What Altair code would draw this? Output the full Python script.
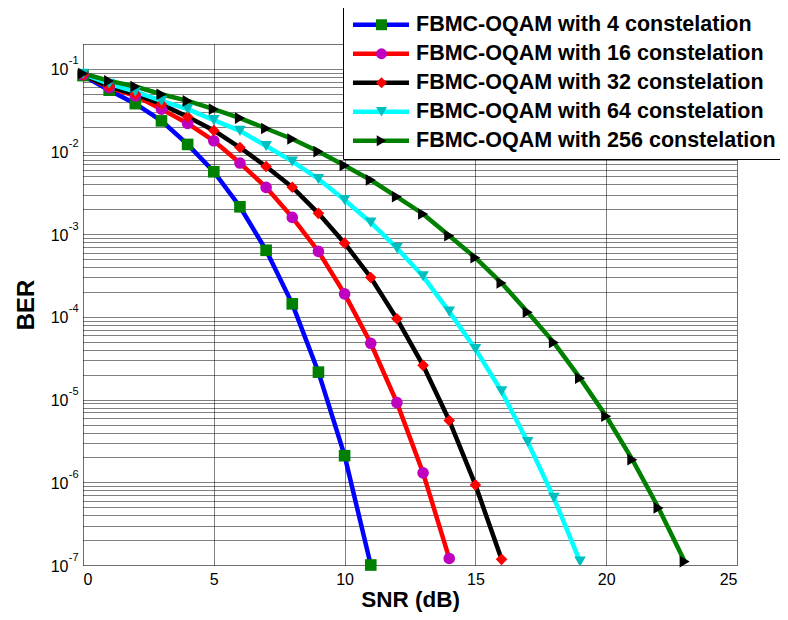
import altair as alt
import pandas as pd

labels = [
    "FBMC-OQAM with 4 constelation",
    "FBMC-OQAM with 16 constelation",
    "FBMC-OQAM with 32 constelation",
    "FBMC-OQAM with 64 constelation",
    "FBMC-OQAM with 256 constelation",
]
codes = ["M4", "M16", "M32", "M64", "M256"]

snr_4 = list(range(0, 12))
ber_4 = [0.083, 0.0553, 0.038, 0.0235, 0.0122, 0.0057, 0.00215, 6.4e-4, 1.44e-4,
         2.15e-5, 2.1e-6, 1.0e-7]

snr_16 = list(range(0, 15))
ber_16 = [0.085, 0.0594, 0.0472, 0.0326, 0.0219, 0.0135, 0.00727, 0.00369, 0.0016,
          6.2e-4, 1.9e-4, 4.8e-5, 9.2e-6, 1.3e-6, 1.2e-7]

snr_32 = list(range(0, 17))
ber_32 = [0.085, 0.061, 0.0494, 0.0374, 0.0263, 0.018, 0.0112, 0.0066, 0.0037,
          0.00179, 7.8e-4, 3.0e-4, 9.5e-5, 2.6e-5, 5.6e-6, 9.3e-7, 1.17e-7]

snr_64 = list(range(0, 20))
ber_64 = [0.087, 0.066, 0.053, 0.041, 0.0326, 0.024, 0.0178, 0.0117, 0.0076,
          0.00466, 0.0026, 0.00139, 6.8e-4, 3.1e-4, 1.16e-4, 4.1e-5, 1.26e-5,
          3.07e-6, 6.5e-7, 1.1e-7]

snr_256 = list(range(0, 24))
ber_256 = [0.088, 0.0716, 0.0612, 0.0494, 0.041, 0.0326, 0.0254, 0.019, 0.0142,
           0.01, 0.0068, 0.00453, 0.00284, 0.00176, 9.6e-4, 5.2e-4, 2.57e-4,
           1.14e-4, 4.9e-5, 1.82e-5, 6.3e-6, 1.88e-6, 4.9e-7, 1.1e-7]

line_colors = ["#0000FF", "#FF0000", "#000000", "#00FFFF", "#008000"]
marker_colors = ["#008000", "#BF00BF", "#FF0000", "#00BFBF", "#000000"]
marker_shapes = ["square", "circle", "diamond", "triangle-down", "triangle-right"]

x_ticks = [0, 5, 10, 15, 20, 25]
y_decades = [1e-7, 1e-6, 1e-5, 1e-4, 1e-3, 1e-2, 1e-1]
y_grid = [m * d for d in y_decades for m in range(1, 10)] + [0.2]

rows = []
for code, lab, xs, ys in zip(codes, labels,
                             [snr_4, snr_16, snr_32, snr_64, snr_256],
                             [ber_4, ber_16, ber_32, ber_64, ber_256]):
    for xv, yv in zip(xs, ys):
        rows.append({"series": code, "marker": lab, "snr": xv, "ber": yv})
df = pd.DataFrame(rows)

FONT = "Liberation Sans"

xscale = alt.Scale(domain=[0, 25], nice=False)
yscale = alt.Scale(type="log", domain=[1e-7, 0.2], nice=False)

x_axis = alt.Axis(values=x_ticks, grid=True, gridColor="#000000", gridDash=[1, 1],
                  gridOpacity=1, ticks=False, domain=False, labelFontSize=16,
                  labelPadding=6, labelFont=FONT, labelColor="#000000",
                  title="SNR (dB)", titleFontSize=22.5, titleFontWeight="bold",
                  titleFont=FONT, titleColor="#000000", titlePadding=1)

y_axis_main = alt.Axis(values=y_grid, grid=True, gridColor="#000000", gridDash=[1, 1],
                       gridOpacity=1, ticks=False, domain=False,
                       labelExpr="(abs(log(datum.value)/LN10 - round(log(datum.value)/LN10)) < 0.001 && datum.value < 0.15) ? '10' : ''",
                       labelOverlap=False, labelFlush=False, labelFontSize=16,
                       labelFont=FONT, labelColor="#000000", labelPadding=15,
                       labelBaseline="middle", labelOffset=1,
                       title="BER", titleFontSize=24, titleFontWeight="bold",
                       titleFont=FONT, titleColor="#000000", titlePadding=12,
                       orient="left")

y_axis_exp = alt.Axis(values=y_decades, grid=False, ticks=False, domain=False,
                      labelExpr="'' + round(log(datum.value)/LN10)",
                      labelOverlap=False, labelFlush=False, labelFontSize=11,
                      labelFont=FONT, labelColor="#000000", labelPadding=5,
                      labelBaseline="middle", labelOffset=-8, title="", orient="left")

# legend of line swatches (draws the white box); its labels are empty
legend_lines = alt.Legend(orient="none", legendX=260, legendY=-37, title=None,
                          symbolType="M-1.55,0H9.65", symbolSize=100,
                          symbolStrokeWidth=4.5, labelExpr="''", labelFontSize=21.5,
                          labelFontWeight="bold", labelFont=FONT, labelOffset=412,
                          labelLimit=700, padding=7, rowPadding=6,
                          fillColor="white", strokeColor="black", zindex=1)

# legend of markers and texts, laid over the line swatches
legend_marks = alt.Legend(orient="none", legendX=280.75, legendY=-37, title=None,
                          symbolSize=120, symbolStrokeWidth=0, labelFontSize=21.5,
                          labelFontWeight="bold", labelFont=FONT, labelColor="#000000",
                          labelOffset=23.75, labelLimit=700, padding=7, rowPadding=6,
                          zindex=2)

lines = alt.Chart(df).mark_line(strokeWidth=4.5, clip=False).encode(
    x=alt.X("snr:Q", scale=xscale, axis=x_axis),
    y=alt.Y("ber:Q", scale=yscale, axis=y_axis_main),
    stroke=alt.Stroke("series:N", scale=alt.Scale(domain=codes, range=line_colors),
                      legend=legend_lines),
    order="snr:Q",
)

points = alt.Chart(df).mark_point(filled=True, size=135, opacity=1, clip=False).encode(
    x=alt.X("snr:Q", scale=xscale, axis=x_axis),
    y=alt.Y("ber:Q", scale=yscale, axis=y_axis_exp),
    fill=alt.Fill("marker:N", scale=alt.Scale(domain=labels, range=marker_colors),
                  legend=legend_marks),
    shape=alt.Shape("marker:N", scale=alt.Scale(domain=labels, range=marker_shapes),
                    legend=legend_marks),
)

chart = alt.layer(lines, points).resolve_axis(y="independent").properties(
    width=654, height=521,
    autosize=alt.AutoSizeParams(type="none"),
    padding={"left": 75, "top": 36, "right": 43, "bottom": 47},
).configure_view(stroke="#000000", strokeWidth=2).configure(background="white")

chart.save("out.html", embed_options={"renderer": "svg", "actions": False})
